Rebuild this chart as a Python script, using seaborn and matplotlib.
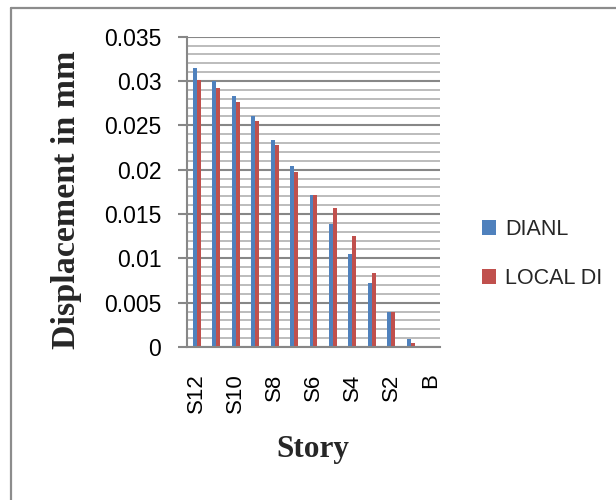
import matplotlib
matplotlib.use("Agg")
import matplotlib.pyplot as plt
import seaborn as sns
import pandas as pd
from matplotlib.lines import Line2D
from matplotlib.ticker import MultipleLocator, FixedLocator, FixedFormatter

stories = ["S12", "S11", "S10", "S9", "S8", "S7", "S6", "S5", "S4", "S3", "S2", "S1", "B"]
dianl = [0.0315, 0.0300, 0.0283, 0.0260, 0.0234, 0.0204, 0.0172, 0.0139, 0.0105, 0.0072, 0.0039, 0.0009, 0.0]
local_di = [0.0301, 0.0292, 0.0276, 0.0255, 0.0228, 0.0197, 0.0171, 0.0157, 0.0125, 0.0083, 0.0040, 0.0005, 0.0]
series_names = ["DIANL", "LOCAL DI"]
colors = ["#4F81BD", "#C0504D"]
ytick_values = [0, 0.005, 0.01, 0.015, 0.02, 0.025, 0.03, 0.035]
ytick_labels = ["0", "0.005", "0.01", "0.015", "0.02", "0.025", "0.03", "0.035"]
xtick_labels = ["S12", "S10", "S8", "S6", "S4", "S2", "B"]

df = pd.DataFrame({
    "Story": stories * 2,
    "Displacement": dianl + local_di,
    "Series": [series_names[0]] * len(stories) + [series_names[1]] * len(stories),
})

sns.set_style("white")
plt.rcParams["font.family"] = ["Liberation Sans", "DejaVu Sans"]

fig = plt.figure(figsize=(6.16, 5.0), dpi=100)
W, H = 616, 500
ax = fig.add_axes([187 / W, 1 - 347 / H, (440 - 187) / W, (347 - 36.7) / H])

sns.barplot(data=df, x="Story", y="Displacement", hue="Series", order=stories,
            hue_order=series_names, palette=colors, width=0.41, gap=0,
            saturation=1, linewidth=0, ax=ax)

grid_major = "#878787"
grid_minor = "#a9a9a9"
ax.set_ylim(0, 0.035)
ax.set_xlim(-0.5, len(stories) - 0.5)
ax.yaxis.set_major_locator(FixedLocator(ytick_values))
ax.yaxis.set_major_formatter(FixedFormatter(ytick_labels))
ax.yaxis.set_minor_locator(MultipleLocator(0.001))
ax.grid(True, axis="y", which="major", color=grid_major, linewidth=1.5, zorder=0)
ax.grid(True, axis="y", which="minor", color=grid_minor, linewidth=1.1, zorder=0)
ax.set_axisbelow(True)

ax.set_xticks([stories.index(s) for s in xtick_labels])
ax.set_xticklabels(xtick_labels, rotation=90)

for side in ["top", "right"]:
    ax.spines[side].set_visible(False)
for side in ["left", "bottom"]:
    ax.spines[side].set_visible(True)
    ax.spines[side].set_color(grid_major)
    ax.spines[side].set_linewidth(1.5)

ax.tick_params(axis="y", which="major", left=True, length=6.5, width=1.5,
               color=grid_major, pad=12, labelsize=16.5, labelcolor="black")
ax.tick_params(axis="y", which="minor", left=False, length=0)
ax.tick_params(axis="x", bottom=False, length=0, pad=19, labelsize=16, labelcolor="black")

ax.set_ylabel("Displacement in mm", fontsize=24.5, fontweight="bold",
              family=["Liberation Serif", "DejaVu Serif"])
ax.yaxis.label.set_verticalalignment("center")
ax.yaxis.set_label_coords((67 - 187) / 253, (347 - 200) / 310.3)

ax.set_xlabel("Story", fontsize=22.5, fontweight="bold",
              family=["Liberation Serif", "DejaVu Serif"])
ax.xaxis.label.set_verticalalignment("center")
ax.xaxis.set_label_coords((313 - 187) / 253, (347 - 450) / 310.3)

leg = ax.legend(loc="center left", bbox_to_anchor=(482 / W, 1 - 254 / H),
                bbox_transform=fig.transFigure, frameon=False, fontsize=15.5,
                handlelength=0.67, handleheight=0.67, handletextpad=0.4,
                labelspacing=1.3, borderpad=0, borderaxespad=0)

frame_color = "#8c8c8c"
fig.add_artist(Line2D([11 / W, 11 / W], [0, 1 - 8 / H], color=frame_color,
                      linewidth=1.6, transform=fig.transFigure))
fig.add_artist(Line2D([11 / W, 1], [1 - 8 / H, 1 - 8 / H], color=frame_color,
                      linewidth=1.6, transform=fig.transFigure))

fig.savefig("out.png", dpi=100, facecolor="white")
